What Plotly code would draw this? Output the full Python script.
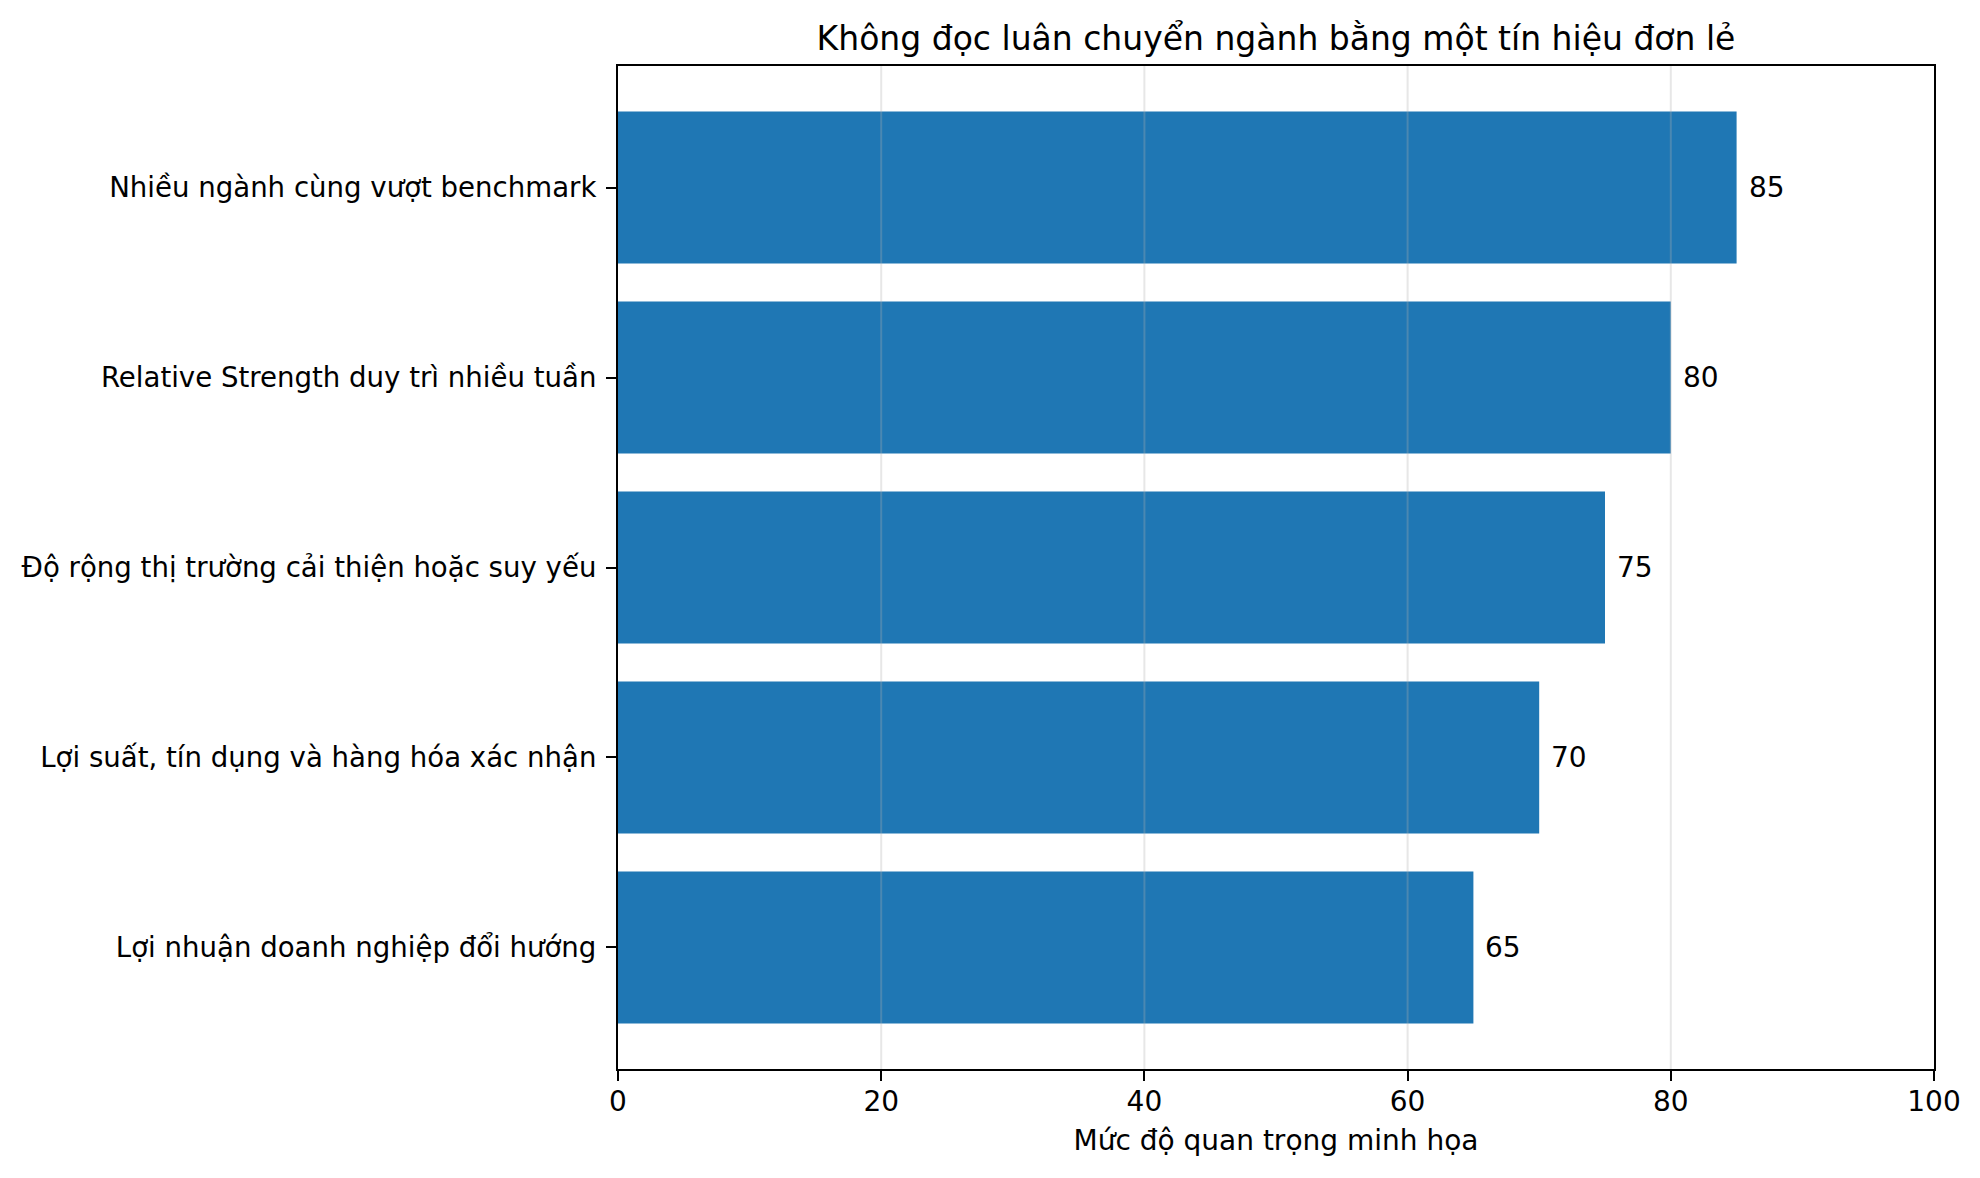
import plotly.graph_objects as go

# data, bottom to top (plotly draws the first category at the bottom)
categories = [
    "Lợi nhuận doanh nghiệp đổi hướng",
    "Lợi suất, tín dụng và hàng hóa xác nhận",
    "Độ rộng thị trường cải thiện hoặc suy yếu",
    "Relative Strength duy trì nhiều tuần",
    "Nhiều ngành cùng vượt benchmark",
]
scores = [65, 70, 75, 80, 85]
x_ticks = [0, 20, 40, 60, 80, 100]

title_text = "Không đọc luân chuyển ngành bằng một tín hiệu đơn lẻ"
x_title = "Mức độ quan trọng minh họa"

FONT = "DejaVu Sans"
BLUE = "#1f77b4"

fig = go.Figure(
    go.Bar(
        x=scores,
        y=categories,
        orientation="h",
        width=0.8,
        marker=dict(color=BLUE, line=dict(width=0)),
        hoverinfo="x+y",
    )
)

# value labels just to the right of each bar
for c, v in zip(categories, scores):
    fig.add_annotation(x=v, y=c, text=str(v), showarrow=False,
                       xanchor="left", yanchor="middle", xshift=10,
                       font=dict(family=FONT, size=28, color="black"))

# light grid drawn over the bars (like matplotlib's alpha grid)
for t in x_ticks[1:-1]:
    fig.add_shape(type="line", xref="x", yref="paper", x0=t, x1=t, y0=0, y1=1,
                  line=dict(color="rgba(176,176,176,0.3)", width=2), layer="above")

# page body has an 8px margin, so the figure is a bit smaller and shifted
fig.update_layout(
    width=1972,
    height=1170,
    margin=dict(l=610, r=46, t=58, b=109, autoexpand=False),
    plot_bgcolor="white",
    paper_bgcolor="white",
    font=dict(family=FONT, size=28, color="black"),
    showlegend=False,
    title=dict(text=title_text, x=0.5, xref="paper", xanchor="center",
               y=1, yref="paper", yanchor="bottom", pad=dict(b=16),
               font=dict(family=FONT, size=33, color="black")),
    xaxis=dict(
        range=[0, 100],
        tickvals=x_ticks,
        showgrid=False,
        zeroline=False,
        automargin=False,
        showline=True, linecolor="black", linewidth=2.2, mirror=True,
        ticks="outside", ticklen=10, tickwidth=2.2, tickcolor="black",
        ticklabelstandoff=-4,
        tickfont=dict(family=FONT, size=28, color="black"),
        title=dict(text=x_title, standoff=14,
                   font=dict(family=FONT, size=28, color="black")),
    ),
    yaxis=dict(
        type="category",
        range=[-0.64, 4.64],
        showgrid=False,
        zeroline=False,
        automargin=False,
        showline=True, linecolor="black", linewidth=2.2, mirror=True,
        ticks="outside", ticklen=10, tickwidth=2.2, tickcolor="black",
        ticklabelstandoff=4,
        tickfont=dict(family=FONT, size=27.6, color="black"),
    ),
)

fig.write_html("out.html")
